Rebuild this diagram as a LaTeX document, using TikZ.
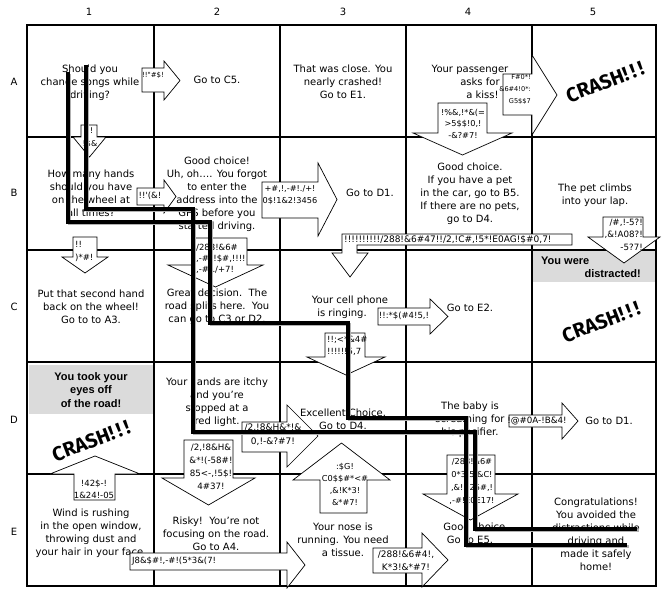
\documentclass[tikz,border=0pt]{standalone}
\usepackage{fontspec}
\setmainfont{DejaVu Sans}
\newfontfamily\arrowfont{DejaVu Sans}[Ligatures=TeXOff]
\newfontfamily\graysans{Liberation Sans}
\newfontfamily\crashfont{Fira Sans}
\newcommand\RArr[7]{\draw[arr] (#1,#2) -- (#3,#2) -- (#3,#6) -- (#5,{(#6+#7)/2}) -- (#3,#7) -- (#3,#4) -- (#1,#4) -- cycle;}
\newcommand\DArr[7]{\draw[arr] (#1,#2) -- (#3,#2) -- (#3,#4) -- (#7,#4) -- ({(#6+#7)/2},#5) -- (#6,#4) -- (#1,#4) -- cycle;}
\newcommand\UArr[7]{\draw[arr] (#1,#4) -- (#1,#2) -- (#6,#2) -- ({(#6+#7)/2},#5) -- (#7,#2) -- (#3,#2) -- (#3,#4) -- cycle;}
\tikzset{
 cell/.style={align=center, inner sep=0pt, font=\fontsize{10}{13}\selectfont},
 lbl/.style={inner sep=0pt, font=\fontsize{10}{12}\selectfont},
 arr/.style={draw=black, fill=white, line width=0.7pt, line join=miter},
 atext/.style 2 args={inner sep=0pt, align=center, font=\arrowfont\fontsize{#1}{#2}\selectfont},
 gridline/.style={line width=2.6pt, line cap=rect},
 route/.style={line width=3.6pt, line join=miter, draw=black},
 routeshadow/.style={line width=3.6pt, line join=miter, draw=black!30},
 graybox/.style={fill=black!14, draw=none},
 graytext/.style={inner sep=0pt, align=center, font=\graysans\bfseries\fontsize{11}{13.5}\selectfont},
 crash/.style={inner sep=0pt, rotate=21, font=\crashfont\bfseries\fontsize{20}{20}\selectfont},
}
\begin{document}
\begin{tikzpicture}[x=1pt,y=-1pt]
\useasboundingbox (0,0) rectangle (665,589);
\fill[white] (0,0) rectangle (665,589);
% gray boxes
\fill[graybox] (29,365) rectangle (153,414);
\fill[graybox] (533,251) rectangle (656,282);
% grid
\foreach \x in {27,154,280,406,532,656} \draw[gridline] (\x,25) -- (\x,586);
\foreach \y in {25,137,250,362,474,586} \draw[gridline] (27,\y) -- (656,\y);
% labels
\node[lbl] (c1) at (89,12) {1};
\node[lbl] (c2) at (217,12) {2};
\node[lbl] (c3) at (343,12) {3};
\node[lbl] (c4) at (468,12) {4};
\node[lbl] (c5) at (593,12) {5};
\node[lbl] (rA) at (14,82) {A};
\node[lbl] (rB) at (14,193) {B};
\node[lbl] (rC) at (14,307) {C};
\node[lbl] (rD) at (14,420) {D};
\node[lbl] (rE) at (14,532) {E};
% cell texts
\node[cell] (A1) at (90,83) {Should you\\change songs while\\driving?};
\node[cell] (A2) at (217,80) {Go to C5.};
\node[cell] (A3) at (343,82) {That was close. You\\nearly crashed!\\Go to E1.};
\node[cell] (A4) at (470,82) {Your passenger\\\hspace*{20pt}asks for\\\hspace*{25pt}a kiss!};
\node[crash] (A5) at (605,82) {CRASH!\,!\,!};
\node[cell] (B1) at (91,193.5) {How many hands\\should you have\\on the wheel at\\all times?};
\node[cell] (B2) at (217,194.5) {Good choice!\\Uh, oh…. You forgot\\to enter the\\address into the\\GPS before you\\started driving.};
\node[cell] (B3) at (370,193) {Go to D1.};
\node[cell] (B4) at (470,194) {Good choice.\\If you have a pet\\in the car, go to B5.\\If there are no pets,\\go to D4.};
\node[cell] (B5) at (595,195) {The pet climbs\\into your lap.};
\node[cell] (C1) at (91,307) {Put that second hand\\back on the wheel!\\Go to to A3.};
\node[cell] (C2) at (217,307) {Great decision.\ \ The\\road splits here.\ \ You\\can go to C3 or D2.};
\node[cell] (C3) at (350,307.5) {Your cell phone\\is ringing.\hspace*{16pt}};
\node[cell] (C4) at (470,308) {Go to E2.};
\node[graytext, anchor=west] (C5a) at (541,261) {You were};
\node[graytext, anchor=east] (C5b) at (641,274) {distracted!};
\node[crash] (C5) at (601,322) {CRASH!\,!\,!};
\node[graytext] (D1) at (91,390) {You took your\\eyes off\\of the road!};
\node[crash] (D1c) at (91,441) {CRASH!\,!\,!};
\node[cell] (D2) at (217,402.5) {Your hands are itchy\\and you're\\stopped at a\\red light.};
\node[cell] (D3) at (343,419.5) {Excellent Choice.\\Go to D4.};
\node[cell] (D4) at (470,420) {The baby is\\screaming for\\his pacifier.};
\node[cell] (D5) at (609,421) {Go to D1.};
\node[cell] (E1) at (91,533.5) {Wind is rushing\\in the open window,\\throwing dust and\\your hair in your face.};
\node[cell] (E2) at (216,534) {Risky!\ \ You're not\\focusing on the road.\\Go to A4.};
\node[cell] (E3) at (343,540) {Your nose is\\running. You need\\a tissue.};
\node[cell] (E4) at (476,533.5) {Good choice.\\Go to E5.\hspace*{12pt}};
\node[cell] (E5) at (596,534.5) {Congratulations!\\You avoided the\\distractions while\\driving and\\made it safely\\home!};
% arrows
\RArr{142}{68}{164}{92}{180}{61}{100}
\node[atext={7}{9}] (t1) at (153,75) {!!"\#\$!};
\RArr{503}{74}{532}{115}{557}{55}{135}
\node[atext={6.6}{12}, align=right, anchor=east] (t2) at (531,90) {F\#0*!\\\&6\#4!0*:\\G5\$\$7};
\DArr{438}{103}{487}{133}{155}{413}{512}
\node[atext={8.2}{11.5}] (t3) at (463,123.5) {!\%\&,!*\&(=\\>5\$\$!0,!\\-\&?\#7!};
\DArr{81}{125}{97}{137}{157}{73}{106}
\node[atext={8}{13}] (t4) at (90,138) {!!\\!\$\&};
\RArr{137}{188}{164}{205}{176}{180}{213}
\node[atext={8.5}{10}] (t5) at (150,196) {!!'(\&!};
\RArr{262}{182}{318}{218}{337}{163}{236}
\node[atext={8.2}{12.5}] (t6) at (290,195) {+\#,!,-\#!./+!\\0\$!1\&2!3456};
\DArr{73}{237}{97}{257}{273}{62}{108}
\node[atext={8.5}{13}, align=left, anchor=west] (t7) at (75,251) {!!\\)*\#!};
\DArr{194}{238}{247}{265}{287}{168}{263}
\node[atext={8.5}{11}, align=left, anchor=west] (t8) at (196,259) {/288!\&6\#\\,-\#*!\$\#,!!!!\\,-\#!./+7!};
\draw[arr] (342,234) -- (572,234) -- (572,245) -- (357,245) -- (357,253) -- (368,253) -- (350,277) -- (332,253) -- (342,253) -- cycle;
\node[atext={9}{11}, anchor=west] (t9) at (344,239.5) {!!!!!!!!!!/288!\&6\#47!!/2,!C\#,!5*!E0AG!\$\#0,7!};
\DArr{603}{217}{643}{237}{263}{588}{660}
\node[atext={8.7}{12.5}, align=right, anchor=east] (t10) at (643,234.5) {/\#,!-5?!\\,\&!A08?!\\-5?7!};
\RArr{378}{308}{430}{325}{448}{299}{334}
\node[atext={8.5}{10}] (t11) at (404,316) {!!:*\$(\#4!5,!};
\DArr{325}{333}{365}{357}{375}{307}{385}
\node[atext={8.5}{12}, align=left, anchor=west] (t12) at (327,346) {!!;<*\&4\#\\!!!!!!5,7};
\RArr{242}{422}{287}{452}{318}{405}{467}
\node[atext={9}{14}] (t13) at (273,434.5) {/2,!8\&H\&*!\&\\0,!-\&?\#7!};
\DArr{184}{440}{233}{478}{505}{162}{255}
\node[atext={8.7}{13}] (t14) at (211,467) {/2,!8\&H\&\\\&*!(-58\#!\\85<-,!5\$!\\4\#37!};
\UArr{74}{474}{115}{500}{456}{50}{140}
\node[atext={8.5}{12}] (t15) at (94,489) {!42\$-!\\1\&24!-05};
\UArr{320}{480}{367}{513}{443}{293}{390}
\node[atext={8.2}{12}] (t16) at (345,484) {:\$G!\\C0\$\$\#*<\#\\,\&!K*3!\\\&*\#7!};
\RArr{509}{415}{562}{427}{578}{403}{439}
\node[atext={8.7}{10}] (t17) at (537,421) {!@\#0A-!B\&4!};
\DArr{447}{455}{495}{494}{520}{423}{518}
\node[atext={8.2}{13}] (t18) at (472,481.5) {/288!\&6\#\\0*3!5,\&C!\\,\&!D25\#,!\\,-\#!E0E17!};
\RArr{130}{553}{287}{570}{305}{542}{588}
\node[atext={8.5}{10}, anchor=west] (t19) at (132,561) {J8\&\$\#!,-\#!(5*3\&(7!};
\RArr{373}{548}{422}{573}{448}{533}{587}
\node[atext={9}{13}] (t20) at (406,560.5) {/288!\&6\#4!,\\K*3!\&*\#7!};
% route
\coordinate (a0) at (68,72); \coordinate (a1) at (68,222); \coordinate (a2) at (210,222);
\coordinate (a3) at (210,323); \coordinate (a4) at (348,323); \coordinate (a5) at (348,418);
\coordinate (a6) at (466,418); \coordinate (a7) at (466,545); \coordinate (a8) at (627,545);
\coordinate (b0) at (86,65); \coordinate (b1) at (86,209); \coordinate (b2) at (193,209);
\coordinate (b3) at (193,432); \coordinate (b4) at (475,432); \coordinate (b5) at (475,529);
\coordinate (b6) at (637,529);
\begin{scope}[transform canvas={shift={(1.5pt,-1.5pt)}}]
\draw[routeshadow] (a0) -- (a1) -- (a2) -- (a3) -- (a4) -- (a5) -- (a6) -- (a7) -- (a8);
\draw[routeshadow] (b0) -- (b1) -- (b2) -- (b3) -- (b4) -- (b5) -- (b6);
\end{scope}
\draw[route] (a0) -- (a1) -- (a2) -- (a3) -- (a4) -- (a5) -- (a6) -- (a7) -- (a8);
\draw[route] (b0) -- (b1) -- (b2) -- (b3) -- (b4) -- (b5) -- (b6);
\end{tikzpicture}
\end{document}
